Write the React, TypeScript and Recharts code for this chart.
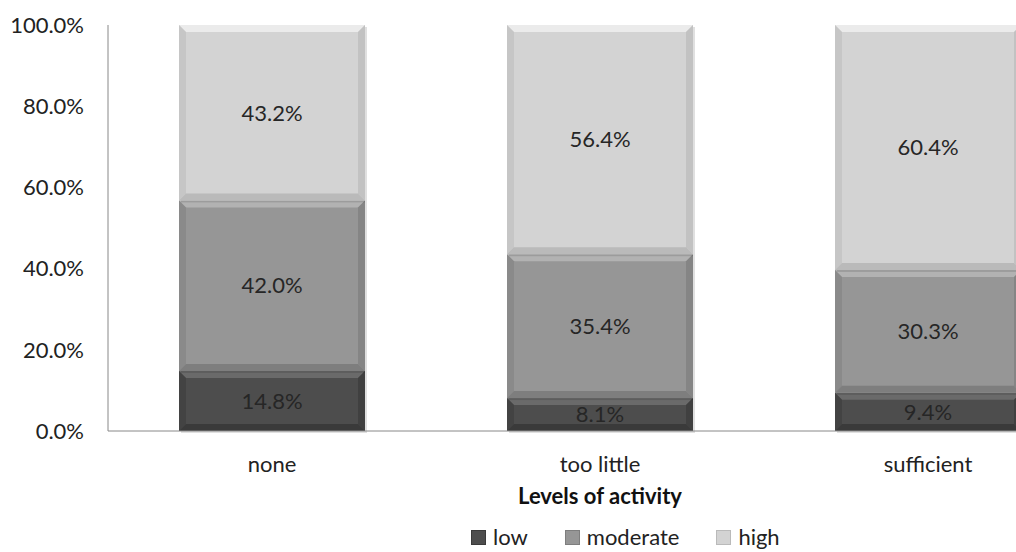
import { BarChart, Bar, XAxis, YAxis, Legend, LabelList } from 'recharts'

const categories = ['none', 'too little', 'sufficient']
const low = [14.8, 8.1, 9.4]
const moderate = [42.0, 35.4, 30.3]
const high = [43.2, 56.4, 60.4]
const yTicks = [0, 0.2, 0.4, 0.6, 0.8, 1]

const SERIES = [
  { key: 'low', name: 'low', fill: '#4d4d4d', light: '#6a6a6a', dark: '#3a3a3a' },
  { key: 'moderate', name: 'moderate', fill: '#969696', light: '#b2b2b2', dark: '#7e7e7e' },
  { key: 'high', name: 'high', fill: '#d3d3d3', light: '#ebebeb', dark: '#bababa' },
]

const data = categories.map((c, i) => ({
  name: c,
  low: low[i],
  moderate: moderate[i],
  high: high[i],
}))

const FONT = 'Lato, "Open Sans", sans-serif'

function BevelBar(props: any) {
  const { x, y, width, height, fill, light, dark } = props
  if (!height || height <= 0) return null
  const b = Math.min(7, height / 3)
  return (
    <g>
      <rect x={x + 2} y={y + 2} width={width} height={height} fill="rgba(0,0,0,0.12)" />
      <rect x={x} y={y} width={width} height={height} fill={fill} />
      <polygon points={`${x},${y} ${x + width},${y} ${x + width - b},${y + b} ${x + b},${y + b}`} fill={light} />
      <polygon points={`${x},${y + height} ${x + width},${y + height} ${x + width - b},${y + height - b} ${x + b},${y + height - b}`} fill={dark} />
      <polygon points={`${x},${y} ${x + b},${y + b} ${x + b},${y + height - b} ${x},${y + height}`} fill={dark} opacity={0.5} />
      <polygon points={`${x + width},${y} ${x + width - b},${y + b} ${x + width - b},${y + height - b} ${x + width},${y + height}`} fill={dark} opacity={0.7} />
    </g>
  )
}

function LegendContent() {
  return (
    <div style={{ display: 'flex', paddingLeft: 471, fontFamily: FONT, fontSize: 22, color: '#222', alignItems: 'center', lineHeight: '26px' }}>
      {SERIES.map((s) => (
        <div key={s.key} style={{ display: 'flex', alignItems: 'center', marginRight: 37 }}>
          <span style={{ display: 'inline-block', width: 13, height: 13, background: s.fill, border: `1px solid ${s.dark}`, marginRight: 7 }} />
          <span>{s.name}</span>
        </div>
      ))}
    </div>
  )
}

export default function App() {
  return (
    <div style={{ position: 'fixed', top: 0, left: 0, width: 1016, height: 552, overflow: 'hidden', background: '#fff' }}>
      <BarChart
        width={1100}
        height={552}
        data={data}
        stackOffset="expand"
        margin={{ top: 25, right: 8, left: 0, bottom: 0 }}
      >
        <YAxis
          width={108}
          domain={[0, 1]}
          ticks={yTicks}
          tickFormatter={(v: number) => `${(v * 100).toFixed(1)}%`}
          tickLine={false}
          axisLine={{ stroke: '#888' }}
          tick={{ fill: '#222', fontSize: 22, fontFamily: FONT, dx: -16 }}
        />
        <XAxis
          dataKey="name"
          height={93}
          tickLine={false}
          axisLine={{ stroke: '#888' }}
          tick={{ fill: '#222', fontSize: 22, fontFamily: FONT, dy: 17 }}
          label={{ value: 'Levels of activity', position: 'insideBottom', offset: 20, fill: '#111', fontSize: 22, fontWeight: 'bold', fontFamily: FONT }}
        />
        <Legend verticalAlign="bottom" height={28} content={<LegendContent />} />
        {SERIES.map((s) => (
          <Bar
            key={s.key}
            dataKey={s.key}
            name={s.name}
            stackId="a"
            fill={s.fill}
            barSize={186}
            isAnimationActive={false}
            shape={(p: any) => <BevelBar {...p} fill={s.fill} light={s.light} dark={s.dark} />}
          >
            <LabelList
              dataKey={s.key}
              position="center"
              formatter={(v: any) => `${Number(v).toFixed(1)}%`}
              style={{ fill: '#262626', fontSize: 22, fontFamily: FONT }}
            />
          </Bar>
        ))}
      </BarChart>
    </div>
  )
}
